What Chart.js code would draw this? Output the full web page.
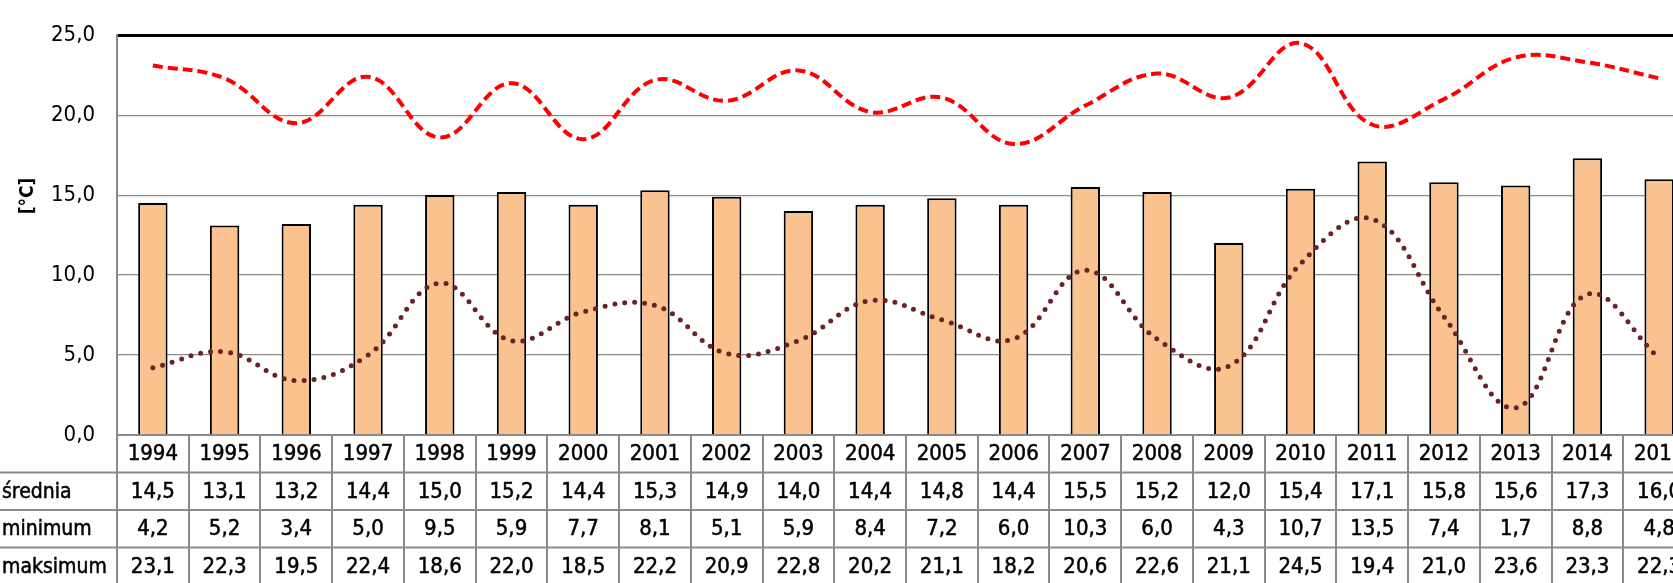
<!DOCTYPE html>
<html>
<head>
    <title>Temperatura</title>
    <script src="https://cdn.jsdelivr.net/npm/chart.js@4.4.0/dist/chart.umd.min.js"></script>
    <style>
        body { margin: 0; overflow: hidden; background: #fff; }
        #wrap { width: 1673px; height: 583px; overflow: hidden; }
    </style>
</head>
<body>
    <div id="wrap"><canvas id="myChart" width="1700" height="583"></canvas></div>
    <script>
      // dane
      var lata = ['1994','1995','1996','1997','1998','1999','2000','2001','2002','2003','2004',
                  '2005','2006','2007','2008','2009','2010','2011','2012','2013','2014','2015'];
      var srednia = [14.5,13.1,13.2,14.4,15.0,15.2,14.4,15.3,14.9,14.0,14.4,14.8,14.4,15.5,15.2,12.0,15.4,17.1,15.8,15.6,17.3,16.0];
      var minimum = [4.2,5.2,3.4,5.0,9.5,5.9,7.7,8.1,5.1,5.9,8.4,7.2,6.0,10.3,6.0,4.3,10.7,13.5,7.4,1.7,8.8,4.8];
      var maksimum = [23.1,22.3,19.5,22.4,18.6,22.0,18.5,22.2,20.9,22.8,20.2,21.1,18.2,20.6,22.6,21.1,24.5,19.4,21.0,23.6,23.3,22.3];
      var wiersze = [['średnia', srednia], ['minimum', minimum], ['maksimum', maksimum]];
      var yTicks = [0, 5, 10, 15, 20, 25];

      var FONT = '"DejaVu Sans Condensed", "DejaVu Sans", sans-serif';
      var GRAY = '#8a8a8a';

      function fmt(v) { return v.toFixed(1).replace('.', ','); }

      // tekst lekko pogrubiony, jak w oryginale
      function txt(ctx, s, x, y) {
        ctx.fillText(s, x, y);
        ctx.strokeText(s, x, y);
      }

      // tabela danych pod wykresem
      var tablePlugin = {
        id: 'dataTable',
        afterDraw: function(chart) {
          var ctx = chart.ctx;
          var x = chart.scales.x;
          var area = chart.chartArea;
          var step = x.getPixelForValue(1) - x.getPixelForValue(0);
          var rowH = 37.5;
          var top = area.bottom;
          var bottom = chart.height + 5;

          ctx.save();
          ctx.strokeStyle = GRAY;
          ctx.lineWidth = 2;
          ctx.beginPath();
          ctx.moveTo(area.left, top);
          ctx.lineTo(chart.width, top);
          for (var r = 1; r <= 3; r++) {
            ctx.moveTo(0, top + r * rowH);
            ctx.lineTo(chart.width, top + r * rowH);
          }
          for (var i = 0; i <= lata.length; i++) {
            var bx = Math.round(x.getPixelForValue(0) - step / 2 + i * step);
            ctx.moveTo(bx, i === 0 ? area.top : top);
            ctx.lineTo(bx, bottom);
          }
          ctx.stroke();

          ctx.fillStyle = '#000';
          ctx.strokeStyle = '#000';
          ctx.lineWidth = 0.5;
          ctx.font = '22px ' + FONT;
          ctx.textBaseline = 'middle';
          ctx.textAlign = 'center';
          lata.forEach(function(l, i) {
            txt(ctx, l, x.getPixelForValue(i), top + rowH / 2 + 1);
          });
          wiersze.forEach(function(w, r) {
            var cy = top + (r + 1) * rowH + rowH / 2 + 1;
            ctx.font = '21px ' + FONT;
            ctx.textAlign = 'left';
            txt(ctx, w[0], 2, cy);
            ctx.font = '22px ' + FONT;
            ctx.textAlign = 'center';
            w[1].forEach(function(v, i) {
              txt(ctx, fmt(v), x.getPixelForValue(i), cy);
            });
          });

          // tytuł osi Y
          ctx.translate(28, 196);
          ctx.rotate(-Math.PI / 2);
          ctx.font = 'bold 19px ' + FONT;
          ctx.textAlign = 'center';
          ctx.fillText('[°C]', 0, 0);
          ctx.restore();
        }
      };

      var ctx = document.getElementById('myChart').getContext('2d');
      var myChart = new Chart(ctx, {
          type: 'bar',
          data: {
              labels: lata,
              datasets: [{
                  type: 'line',
                  label: 'maksimum',
                  data: maksimum,
                  borderColor: '#ff0000',
                  borderWidth: 4,
                  borderDash: [10, 5],
                  tension: 0.4,
                  pointRadius: 0,
                  fill: false,
                  order: 1
              }, {
                  type: 'line',
                  label: 'minimum',
                  data: minimum,
                  borderColor: '#6b2226',
                  borderWidth: 5,
                  borderDash: [0, 10],
                  borderCapStyle: 'round',
                  tension: 0.4,
                  pointRadius: 0,
                  fill: false,
                  order: 1
              }, {
                  label: 'średnia',
                  data: srednia,
                  backgroundColor: '#f9c28f',
                  borderColor: '#000',
                  borderWidth: 2,
                  borderSkipped: 'bottom',
                  barPercentage: 0.41,
                  categoryPercentage: 1,
                  order: 2
              }]
          },
          options: {
              responsive: false,
              animation: false,
              devicePixelRatio: 1,
              layout: { padding: { top: 24, right: 5, left: 0, bottom: 0 } },
              plugins: { legend: { display: false }, tooltip: { enabled: false } },
              scales: {
                  x: {
                      offset: true,
                      grid: { display: false },
                      border: { display: false },
                      ticks: { display: false },
                      afterFit: function(s) { s.height = 148; }
                  },
                  y: {
                      min: 0,
                      max: 25,
                      afterBuildTicks: function(s) { s.ticks = yTicks.map(function(v) { return { value: v }; }); },
                      afterFit: function(s) { s.width = 117; },
                      border: { color: GRAY, width: 1.5 },
                      grid: {
                          drawTicks: false,
                          color: function(c) { return c.tick && c.tick.value === 25 ? '#000' : GRAY; },
                          lineWidth: function(c) { return c.tick && c.tick.value === 25 ? 3 : 1.2; }
                      },
                      ticks: {
                          padding: 22,
                          color: '#000',
                          font: { family: FONT, size: 22 },
                          callback: function(v) { return fmt(v); }
                      }
                  }
              }
          },
          plugins: [tablePlugin]
      });
    </script>
</body>
</html>
